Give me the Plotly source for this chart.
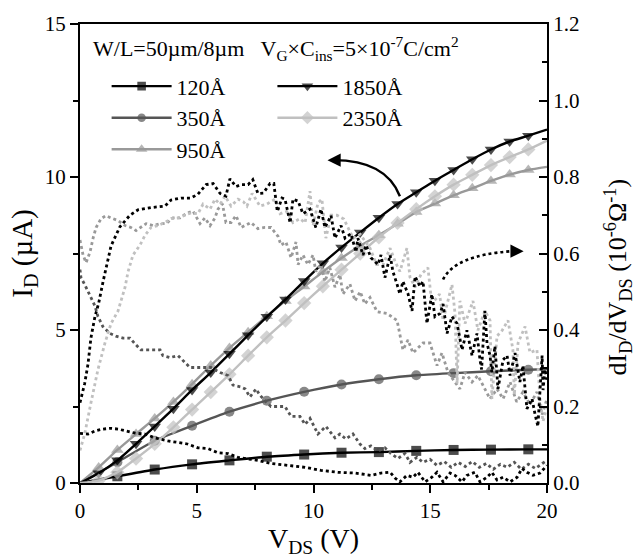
import plotly.graph_objects as go

# ---------------- data ----------------
v_step = [0, 0.8, 1.6, 2.4, 3.2, 4.0, 4.8, 5.6, 6.4, 7.2, 8.0, 8.8, 9.6, 10.4, 11.2,
          12.0, 12.8, 13.6, 14.4, 15.2, 16.0, 16.8, 17.6, 18.4, 19.2, 20.0]
v_coarse = [0, 1.6, 3.2, 4.8, 6.4, 8.0, 9.6, 11.2, 12.8, 14.4, 16.0, 17.6, 19.2, 20.0]

id_120 = [0, 0.22, 0.44, 0.61, 0.74, 0.86, 0.93, 0.99, 1.01, 1.05, 1.08, 1.09, 1.10, 1.10]
id_350 = [0, 0.68, 1.38, 1.87, 2.33, 2.69, 2.98, 3.22, 3.39, 3.52, 3.59, 3.65, 3.70, 3.72]
id_950 = [0, 0.51, 1.08, 1.60, 2.11, 2.65, 3.23, 3.84, 4.41, 4.93, 5.45, 5.95, 6.42, 6.90, 7.35,
          7.75, 8.10, 8.47, 8.86, 9.13, 9.40, 9.63, 9.87, 10.08, 10.23, 10.33]
id_1850 = [0, 0.32, 0.74, 1.28, 1.85, 2.43, 3.04, 3.61, 4.22, 4.83, 5.43, 6.00, 6.60, 7.18, 7.70,
           8.19, 8.67, 9.12, 9.50, 9.88, 10.23, 10.58, 10.90, 11.16, 11.35, 11.55]
id_2350 = [0, 0.08, 0.35, 0.80, 1.28, 1.82, 2.40, 2.97, 3.55, 4.16, 4.76, 5.31, 5.88, 6.43, 6.97,
           7.50, 8.03, 8.50, 8.95, 9.37, 9.75, 10.07, 10.39, 10.65, 10.90, 11.19]

# derivative curves dI/dV (1e-6 S)
dv_1850 = [0, 0.2, 0.34, 0.47, 0.64, 0.8, 1.0, 1.33, 1.71, 2.14, 2.48, 3.04, 3.64, 3.9, 4.33, 4.75,
           5.05, 5.4, 5.7, 6.0, 6.25, 6.42, 6.68, 6.9, 7.2, 7.4, 7.62, 7.85, 8.14, 8.3, 8.45, 8.65,
           8.78, 9.0, 9.12, 9.34, 9.55, 9.85, 10.1, 10.32, 10.49, 10.75, 10.92, 11.18, 11.35, 11.6,
           11.82, 11.9, 12.12, 12.25, 12.46, 12.76, 12.89, 13.06, 13.28, 13.4, 13.58, 13.7, 13.83,
           14.05, 14.22, 14.35, 14.56, 14.69, 14.86, 15.07, 15.2, 15.42, 15.55, 15.72, 15.93, 16.15,
           16.36, 16.57, 16.79, 17.0, 17.13, 17.2, 17.34, 17.43, 17.56, 17.64, 17.77, 17.9, 18.12,
           18.29, 18.42, 18.63, 18.84, 18.97, 19.14, 19.36, 19.49, 19.61, 19.79, 19.83, 19.91, 20.0]
dg_1850 = [0.21, 0.26, 0.31, 0.38, 0.435, 0.47, 0.53, 0.62, 0.67, 0.70, 0.714, 0.72, 0.724, 0.74, 0.745, 0.745,
           0.755, 0.78, 0.783, 0.757, 0.75, 0.795, 0.775, 0.78, 0.78, 0.793, 0.757, 0.758, 0.783, 0.783, 0.71, 0.745,
           0.742, 0.68, 0.742, 0.737, 0.704, 0.716, 0.668, 0.716, 0.668, 0.699, 0.64, 0.673, 0.64, 0.652,
           0.604, 0.64, 0.596, 0.622, 0.589, 0.571, 0.596, 0.537, 0.596, 0.553, 0.519, 0.494, 0.527,
           0.494, 0.45, 0.54, 0.514, 0.527, 0.417, 0.494, 0.435, 0.443, 0.468, 0.391, 0.435, 0.417,
           0.348, 0.399, 0.333, 0.391, 0.322, 0.297, 0.45, 0.366, 0.333, 0.289, 0.358, 0.246, 0.322,
           0.333, 0.281, 0.34, 0.264, 0.307, 0.194, 0.22, 0.179, 0.148, 0.333, 0.243, 0.297, 0.27]

dv_120 = [0, 0.34, 0.64, 0.98, 1.3, 1.63, 1.97, 2.4, 2.78, 3.21, 3.77, 4.2, 4.6, 5.05, 5.48, 5.91, 6.34,
          6.77, 7.62, 8.18, 8.91, 9.64, 10.32, 11.05, 11.78, 12.46, 12.89, 13.28, 13.49, 13.7, 14.0, 14.26,
          14.47, 14.78, 15.07, 15.29, 15.55, 15.85, 16.06, 16.36, 16.57, 16.91, 17.13, 17.43, 17.64, 17.86,
          18.12, 18.42, 18.72, 18.93, 19.14, 19.4, 19.7, 20.0]
dg_120 = [0.13, 0.128, 0.136, 0.141, 0.143, 0.141, 0.136, 0.13, 0.128, 0.118, 0.11, 0.105, 0.102, 0.092, 0.09,
          0.079, 0.077, 0.067, 0.059, 0.051, 0.046, 0.041, 0.033, 0.028, 0.026, 0.02, 0.026, 0.028, 0.013, 0.003,
          0.02, 0.015, 0.028, 0.003, 0.015, 0.028, 0.003, 0.026, 0.02, 0.003, 0.02, 0.028, 0.003, 0.015, 0.028,
          0.008, 0.015, 0.003, 0.015, 0.038, 0.028, 0.02, 0.026, 0.046]

dv_350 = [0, 0.04, 0.2, 0.34, 0.47, 0.64, 0.77, 0.98, 1.28, 1.54, 1.84, 2.14, 2.4, 2.61, 3.0, 3.43, 3.55,
          3.85, 4.2, 4.5, 4.71, 5.18, 5.61, 6.0, 6.34, 6.55, 6.9, 7.07, 7.28, 7.54, 7.7, 7.97, 8.18, 8.78,
          9.04, 9.42, 9.64, 9.85, 10.19, 10.53, 10.92, 11.13, 11.39, 11.69, 11.99, 12.2, 12.46, 12.76, 13.06,
          13.32, 13.62, 13.92, 14.13, 14.43, 14.69, 14.99, 15.29, 15.6, 15.9, 16.2, 16.5, 16.8, 17.1, 17.4,
          17.7, 18.0, 18.3, 18.6, 18.9, 19.2, 19.5, 19.8, 20.0]
dg_350 = [0.558, 0.537, 0.519, 0.502, 0.486, 0.463, 0.435, 0.409, 0.391, 0.384, 0.379, 0.379, 0.361, 0.348,
          0.348, 0.348, 0.333, 0.328, 0.333, 0.315, 0.302, 0.302, 0.302, 0.289, 0.281, 0.256, 0.251, 0.246,
          0.225, 0.246, 0.23, 0.212, 0.2, 0.2, 0.174, 0.174, 0.153, 0.169, 0.128, 0.148, 0.118, 0.128, 0.115,
          0.128, 0.102, 0.09, 0.097, 0.084, 0.092, 0.077, 0.064, 0.077, 0.054, 0.067, 0.054, 0.062, 0.046,
          0.056, 0.041, 0.054, 0.043, 0.056, 0.041, 0.051, 0.036, 0.049, 0.041, 0.054, 0.036, 0.049, 0.038,
          0.051, 0.059]

dv_950 = [0, 0.13, 0.26, 0.43, 0.56, 0.69, 0.9, 1.11, 1.33, 1.63, 1.93, 2.18, 2.4, 2.61, 2.83, 3.13, 3.43,
          3.68, 3.98, 4.28, 4.54, 4.84, 5.14, 5.35, 5.57, 5.78, 5.91, 6.1, 6.25, 6.47, 6.68, 6.9, 7.07, 7.32,
          7.62, 7.92, 8.18, 8.48, 8.61, 8.82, 9.04, 9.25, 9.34, 9.55, 9.76, 9.98, 10.1, 10.32, 10.49, 10.7,
          10.92, 11.13, 11.26, 11.56, 11.78, 12.0, 12.2, 12.42, 12.72, 13.15, 13.58, 13.83, 14.05, 14.26,
          14.69, 14.99, 15.29, 15.5, 15.76, 16.27, 16.49, 16.79, 17.04, 17.26, 17.56, 17.86, 18.12, 18.42,
          18.7, 18.97, 19.27, 19.57, 19.79, 20.0]
dg_950 = [0.635, 0.596, 0.576, 0.604, 0.64, 0.668, 0.691, 0.699, 0.693, 0.686, 0.673, 0.668, 0.66, 0.668,
          0.678, 0.673, 0.678, 0.678, 0.693, 0.693, 0.704, 0.711, 0.678, 0.693, 0.673, 0.693, 0.716, 0.73,
          0.681, 0.681, 0.699, 0.668, 0.673, 0.681, 0.665, 0.668, 0.668, 0.645, 0.622, 0.63, 0.589, 0.63,
          0.571, 0.596, 0.571, 0.596, 0.553, 0.571, 0.527, 0.563, 0.512, 0.545, 0.494, 0.52, 0.476, 0.5,
          0.468, 0.485, 0.448, 0.443, 0.425, 0.348, 0.374, 0.34, 0.366, 0.366, 0.307, 0.34, 0.289, 0.246,
          0.289, 0.264, 0.281, 0.256, 0.22, 0.246, 0.22, 0.264, 0.212, 0.238, 0.205, 0.238, 0.179, 0.22]

dv_2350 = [0, 0.2, 0.47, 0.77, 1.07, 1.33, 1.63, 1.93, 2.06, 2.27, 2.57, 2.78, 3.04, 3.34, 3.64, 3.9, 4.2,
           4.5, 4.75, 5.05, 5.27, 5.57, 5.78, 6.0, 6.21, 6.47, 6.77, 7.0, 7.15, 7.37, 7.71, 8.0, 8.35, 8.57,
           8.85, 9.12, 9.42, 9.64, 9.85, 9.98, 10.19, 10.36, 10.53, 10.75, 11.0, 11.3, 11.7, 12.0, 12.42,
           12.7, 12.98, 13.28, 13.5, 13.7, 14.0, 14.13, 14.35, 14.6, 14.9, 15.07, 15.4, 15.55, 15.93, 16.06,
           16.15, 16.27, 16.49, 16.83, 17.04, 17.34, 17.56, 17.64, 17.86, 18.08, 18.33, 18.54, 18.6, 18.76,
           19.06, 19.27, 19.57, 19.7, 19.83, 20.0]
dg_2350 = [0.085, 0.128, 0.21, 0.297, 0.366, 0.417, 0.45, 0.512, 0.553, 0.596, 0.622, 0.647, 0.668, 0.673,
           0.681, 0.691, 0.693, 0.699, 0.706, 0.704, 0.729, 0.716, 0.742, 0.729, 0.75, 0.724, 0.742, 0.735,
           0.724, 0.757, 0.724, 0.729, 0.742, 0.704, 0.71, 0.681, 0.691, 0.68, 0.763, 0.673, 0.732, 0.742,
           0.64, 0.7, 0.7, 0.69, 0.64, 0.65, 0.614, 0.571, 0.571, 0.614, 0.578, 0.553, 0.614, 0.538, 0.512,
           0.545, 0.563, 0.468, 0.494, 0.425, 0.519, 0.443, 0.26, 0.476, 0.417, 0.476, 0.399, 0.45, 0.425,
           0.22, 0.384, 0.399, 0.425, 0.348, 0.23, 0.366, 0.409, 0.341, 0.348, 0.22, 0.161, 0.2]

labels = ["120Å", "350Å", "950Å", "1850Å", "2350Å"]

FONT = "Liberation Serif"
C_BLACK = "#000000"
C_DARK = "#555555"
C_MID = "#999999"
C_LIGHT = "#c0c0c0"

fig = go.Figure()

def marker_sizes(xs, s):
    # no marker on the end points (origin and axis edge)
    return [0 if (i == 0 or x >= 20) else s for i, x in enumerate(xs)]

# dotted derivative curves (right axis)
for xs, ys, col in [(dv_350, dg_350, C_DARK), (dv_950, dg_950, C_MID), (dv_2350, dg_2350, C_LIGHT),
                    (dv_120, dg_120, C_BLACK), (dv_1850, dg_1850, C_BLACK)]:
    fig.add_trace(go.Scatter(x=xs, y=ys, yaxis="y2", mode="lines",
                             line=dict(color=col, width=2.8, dash="dot"), showlegend=False,
                             hoverinfo="skip"))

# solid I-V curves (left axis)
series = [
    (v_coarse, id_120, labels[0], C_BLACK, "square", 10, "legend"),
    (v_coarse, id_350, labels[1], C_DARK, "circle", 10, "legend"),
    (v_step, id_950, labels[2], C_MID, "triangle-up", 11, "legend"),
    (v_step, id_1850, labels[3], C_BLACK, "triangle-down", 11, "legend2"),
    (v_step, id_2350, labels[4], C_LIGHT, "diamond", 11, "legend2"),
]
for xs, ys, name, col, sym, s, lg in series:
    fig.add_trace(go.Scatter(x=xs, y=ys, mode="lines+markers", name=name,
                             line=dict(color=col, width=2.4, shape="spline", smoothing=0.6),
                             marker=dict(symbol=sym, size=marker_sizes(xs, s), color=col, line=dict(width=0)),
                             legend=lg))

axis_common = dict(showline=True, linecolor="black", linewidth=2, showgrid=False, zeroline=False,
                   tickfont=dict(family=FONT, size=21, color="black"), ticklen=8, tickwidth=2,
                   tickcolor="black")

fig.update_layout(
    width=642, height=559,
    margin=dict(l=80, r=95, t=14, b=76),
    plot_bgcolor="white", paper_bgcolor="white",
    font=dict(family=FONT, color="black"),
    xaxis=dict(range=[0, 20], tickvals=[0, 5, 10, 15, 20], ticks="outside", mirror=True,
               minor=dict(dtick=2.5, ticks="outside", ticklen=5, tickwidth=2, tickcolor="black"),
               title=dict(text="V<sub>DS</sub> (V)", font=dict(family=FONT, size=28), standoff=3),
               **axis_common),
    yaxis=dict(range=[0, 15], tickvals=[0, 5, 10, 15], ticks="outside",
               minor=dict(dtick=2.5, ticks="outside", ticklen=5, tickwidth=2, tickcolor="black"),
               title=dict(text="I<sub>D</sub> (µA)", font=dict(family=FONT, size=29), standoff=4),
               **axis_common),
    yaxis2=dict(range=[0, 1.2], tickvals=[0, 0.2, 0.4, 0.6, 0.8, 1.0, 1.2], tickformat=".1f",
                overlaying="y", side="right", ticks="inside",
                minor=dict(dtick=0.1, ticks="inside", ticklen=5, tickwidth=2, tickcolor="black"),
                **axis_common),
    legend=dict(x=0.057, y=0.91, xanchor="left", yanchor="top", bgcolor="rgba(0,0,0,0)",
                font=dict(family=FONT, size=22), tracegroupgap=0, itemwidth=60),
    legend2=dict(x=0.412, y=0.91, xanchor="left", yanchor="top", bgcolor="rgba(0,0,0,0)",
                 font=dict(family=FONT, size=22), tracegroupgap=0, itemwidth=60),
    showlegend=True,
)

fig.add_annotation(xref="paper", yref="paper", x=0.024, y=0.985, xanchor="left", yanchor="top",
                   text="W/L=50µm/8µm   V<sub>G</sub>×C<sub>ins</sub>=5×10<sup>-7</sup>C/cm<sup>2</sup>",
                   showarrow=False, font=dict(family=FONT, size=22))

fig.add_annotation(xref="paper", yref="paper", x=1.152, y=0.45, xanchor="center", yanchor="middle",
                   textangle=-90,
                   text="dI<sub>D</sub>/dV<sub>DS</sub> (10<sup>-6</sup>Ω<sup>-1</sup>)",
                   showarrow=False, font=dict(family=FONT, size=26))

# curved arrow pointing to left axis (solid)
fig.add_shape(type="path", xref="x", yref="y", path="M 13.7,9.37 Q 13.1,10.55 10.85,10.55",
              line=dict(color="black", width=2.4))
fig.add_annotation(xref="x", yref="y", x=10.6, y=10.55, ax=14, ay=0, text="", showarrow=True,
                   arrowhead=2, arrowsize=1.2, arrowwidth=2.2, arrowcolor="black")
# curved dotted arrow pointing to right axis
fig.add_shape(type="path", xref="x", yref="y2", path="M 15.55,0.532 Q 16.06,0.596 18.5,0.606",
              line=dict(color="black", width=2.6, dash="dot"))
fig.add_annotation(xref="x", yref="y2", x=19.0, y=0.606, ax=-12, ay=0, text="", showarrow=True,
                   arrowhead=2, arrowsize=1.2, arrowwidth=2.2, arrowcolor="black")

fig.write_html("out.html")
